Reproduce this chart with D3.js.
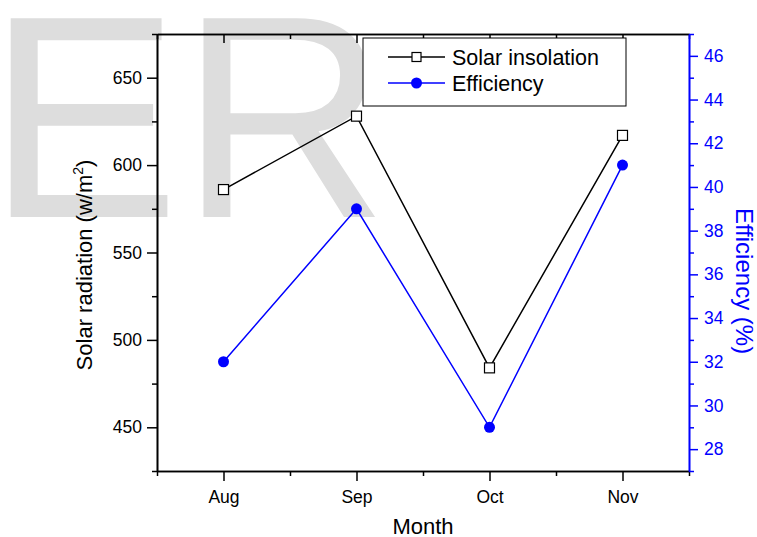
<!DOCTYPE html>
<meta charset="utf-8">
<script src="https://cdn.jsdelivr.net/npm/d3@7"></script>
<style>
  body { margin: 0; background: #fff; }
  svg { font-family: "Liberation Sans", Arial, sans-serif; }
</style>
<div id="chart"></div>
<script>
  // data
  var months = ["Aug", "Sep", "Oct", "Nov"];
  var insolation = [586, 628, 484, 617];
  var efficiency = [32, 39, 29, 41];
  var leftTicks = [450, 500, 550, 600, 650];
  var leftMinor = [425, 475, 525, 575, 625, 675];
  var rightTicks = [28, 30, 32, 34, 36, 38, 40, 42, 44, 46];
  var rightMinor = [27, 29, 31, 33, 35, 37, 39, 41, 43, 45, 47];
  var seriesNames = ["Solar insolation", "Efficiency"];

  var W = 757, H = 537;
  var margin = {top: 34, right: 68, bottom: 66, left: 157};
  var width = W - margin.left - margin.right,
      height = H - margin.top - margin.bottom;
  var blue = "#0000ff";

  var svg = d3.select("#chart").append("svg")
    .attr("width", W).attr("height", H);

  // watermark behind everything
  svg.append("text")
    .attr("x", -13).attr("y", 217)
    .attr("font-size", 289)
    .attr("fill", "#dddddd")
    .text("ER");

  var g = svg.append("g")
    .attr("transform", "translate(" + margin.left + "," + margin.top + ")");

  var x = d3.scaleLinear().domain([-0.5, months.length - 0.5]).range([0, width]);
  var yL = d3.scaleLinear().domain([425, 675]).range([height, 0]);
  var yR = d3.scaleLinear().domain([27, 47]).range([height, 0]);

  var idx = months.map(function (d, i) { return i; });
  var xMinor = d3.range(-0.5, months.length, 1);

  function styleAxis(sel, color) {
    sel.selectAll("path").attr("stroke", color).attr("stroke-width", 1.6);
    sel.selectAll("line").attr("stroke", color).attr("stroke-width", 1.5);
    sel.selectAll("text").attr("fill", color).attr("font-size", "17.5px")
      .attr("font-family", "Liberation Sans, Arial, sans-serif");
  }

  // bottom axis
  g.append("g").attr("transform", "translate(0," + height + ")")
    .call(d3.axisBottom(x).tickValues(xMinor).tickSize(5).tickSizeOuter(0).tickFormat(""))
    .call(styleAxis, "#000");
  g.append("g").attr("transform", "translate(0," + height + ")")
    .call(d3.axisBottom(x).tickValues(idx).tickSize(10).tickSizeOuter(0).tickPadding(10)
      .tickFormat(function (i) { return months[i]; }))
    .call(styleAxis, "#000");

  // top axis, ticks pointing in
  g.append("g")
    .call(d3.axisTop(x).tickValues(xMinor).tickSize(-5).tickSizeOuter(0).tickFormat(""))
    .call(styleAxis, "#000");
  g.append("g")
    .call(d3.axisTop(x).tickValues(idx).tickSize(-9).tickSizeOuter(0).tickFormat(""))
    .call(styleAxis, "#000");

  // left axis
  g.append("g")
    .call(d3.axisLeft(yL).tickValues(leftMinor).tickSize(5).tickSizeOuter(0).tickFormat(""))
    .call(styleAxis, "#000");
  g.append("g")
    .call(d3.axisLeft(yL).tickValues(leftTicks).tickSize(10).tickSizeOuter(0).tickPadding(5))
    .call(styleAxis, "#000");

  // right axis
  g.append("g").attr("transform", "translate(" + width + ",0)")
    .call(d3.axisRight(yR).tickValues(rightMinor).tickSize(5).tickSizeOuter(0).tickFormat(""))
    .call(styleAxis, blue);
  g.append("g").attr("transform", "translate(" + width + ",0)")
    .call(d3.axisRight(yR).tickValues(rightTicks).tickSize(9).tickSizeOuter(0).tickPadding(6))
    .call(styleAxis, blue);

  // lines
  var lineL = d3.line().x(function (d, i) { return x(i); }).y(function (d) { return yL(d); });
  var lineR = d3.line().x(function (d, i) { return x(i); }).y(function (d) { return yR(d); });

  g.append("path").datum(efficiency).attr("d", lineR)
    .attr("fill", "none").attr("stroke", blue).attr("stroke-width", 1.5);
  g.append("path").datum(insolation).attr("d", lineL)
    .attr("fill", "none").attr("stroke", "#000").attr("stroke-width", 1.5);

  g.selectAll(".sq").data(insolation).enter().append("rect")
    .attr("x", function (d, i) { return x(i) - 5; })
    .attr("y", function (d) { return yL(d) - 5; })
    .attr("width", 10).attr("height", 10)
    .attr("fill", "#fff").attr("stroke", "#000").attr("stroke-width", 1.2);

  g.selectAll(".dot").data(efficiency).enter().append("circle")
    .attr("cx", function (d, i) { return x(i); })
    .attr("cy", function (d) { return yR(d); })
    .attr("r", 5.5).attr("fill", blue);

  // axis titles
  svg.append("text")
    .attr("transform", "translate(92,265) rotate(-90)")
    .attr("text-anchor", "middle").attr("font-size", "22px")
    .call(function (t) {
      t.append("tspan").text("Solar radiation (w/m");
      t.append("tspan").attr("font-size", "14px").attr("dy", -9).text("2");
      t.append("tspan").attr("dy", 9).text(")");
    });

  svg.append("text")
    .attr("transform", "translate(736,281) rotate(90)")
    .attr("text-anchor", "middle").attr("font-size", "24px").attr("fill", blue)
    .text("Efficiency (%)");

  svg.append("text")
    .attr("x", margin.left + width / 2).attr("y", 534)
    .attr("text-anchor", "middle").attr("font-size", "22px")
    .text("Month");

  // legend
  var lg = svg.append("g");
  lg.append("rect").attr("x", 363).attr("y", 38).attr("width", 263).attr("height", 68)
    .attr("fill", "#fff").attr("stroke", "#000").attr("stroke-width", 1);
  var rows = [57, 83];
  seriesNames.forEach(function (name, i) {
    var col = i === 0 ? "#000" : blue;
    lg.append("line").attr("x1", 388).attr("x2", 445).attr("y1", rows[i]).attr("y2", rows[i])
      .attr("stroke", col).attr("stroke-width", 1.5);
    if (i === 0) {
      lg.append("rect").attr("x", 412).attr("y", rows[i] - 4.5).attr("width", 9).attr("height", 9)
        .attr("fill", "#fff").attr("stroke", "#000").attr("stroke-width", 1.2);
    } else {
      lg.append("circle").attr("cx", 416.5).attr("cy", rows[i]).attr("r", 5.5).attr("fill", blue);
    }
    lg.append("text").attr("x", 452).attr("y", rows[i] + 8)
      .attr("font-size", "21.5px").text(name);
  });
</script>
